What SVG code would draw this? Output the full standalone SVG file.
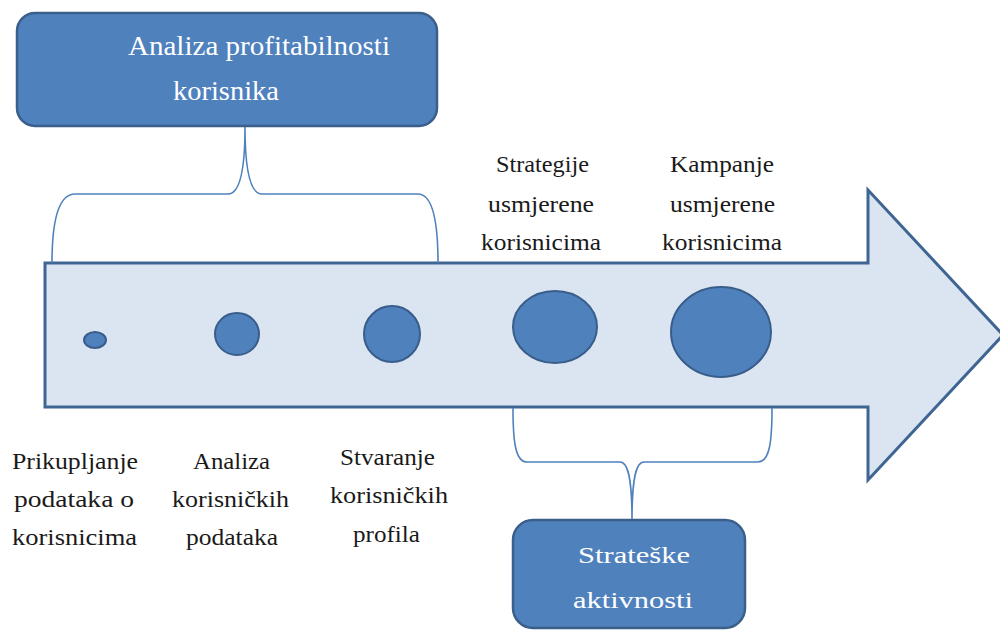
<svg xmlns="http://www.w3.org/2000/svg" width="1000" height="630" viewBox="0 0 1000 630">
<style>
.box{fill:#4F81BD;stroke:#3A5F8B;stroke-width:2.5}
.dot{fill:#4F81BD;stroke:#385D8A;stroke-width:2}
.brace{fill:none;stroke:#4F81BD;stroke-width:1.6}
</style>
<rect width="1000" height="630" fill="#fff"/>
<g id="arrow">
<path d="M45,263 L868,263 L868,190 L1003,335 L868,480 L868,407 L45,407 Z" fill="#DBE5F1" stroke="#3F6593" stroke-width="3"/>
</g>
<g id="connectors">
<path class="brace" d="M52,263 C52,228 56,194 75,194 L228,194 C240,194 245,170 245,127 C245,170 250,194 262,194 L418,194 C434,194 438,228 438,263"/>
<path class="brace" d="M513,408 C513,440 515,462 527,462 L620,462 C628,462 632,478 632,520 C632,478 636,462 644,462 L758,462 C770,462 772,440 772,408"/>
</g>
<g id="circles">
<ellipse class="dot" cx="95" cy="340" rx="11" ry="8"/>
<ellipse class="dot" cx="237" cy="334" rx="22" ry="21"/>
<ellipse class="dot" cx="392" cy="334" rx="28" ry="28"/>
<ellipse class="dot" cx="555" cy="327" rx="42" ry="36"/>
<ellipse class="dot" cx="721" cy="332" rx="50" ry="45"/>
</g>
<g id="top-box" font-family="Liberation Serif, Times New Roman, serif" fill="#fff" font-size="27">
<rect class="box" x="17" y="13" width="420" height="113" rx="18"/>
<text x="128" y="55" textLength="262" lengthAdjust="spacingAndGlyphs">Analiza profitabilnosti</text>
<text x="173" y="100" textLength="106" lengthAdjust="spacingAndGlyphs">korisnika</text>
</g>
<g id="bottom-box" font-family="Liberation Serif, Times New Roman, serif" fill="#fff" font-size="24">
<rect class="box" x="513" y="520" width="232" height="108" rx="20"/>
<text x="578" y="563" textLength="112" lengthAdjust="spacingAndGlyphs">Strateške</text>
<text x="573" y="608" textLength="120" lengthAdjust="spacingAndGlyphs">aktivnosti</text>
</g>
<g font-family="Liberation Serif, Times New Roman, serif" fill="#1a1a1a" font-size="24">
<g id="label-strategije">
<text x="496" y="172" textLength="93" lengthAdjust="spacingAndGlyphs">Strategije</text>
<text x="488" y="212" textLength="106" lengthAdjust="spacingAndGlyphs">usmjerene</text>
<text x="481" y="250" textLength="120" lengthAdjust="spacingAndGlyphs">korisnicima</text>
</g>
<g id="label-kampanje">
<text x="670" y="172" textLength="104" lengthAdjust="spacingAndGlyphs">Kampanje</text>
<text x="670" y="212" textLength="105" lengthAdjust="spacingAndGlyphs">usmjerene</text>
<text x="662" y="250" textLength="120" lengthAdjust="spacingAndGlyphs">korisnicima</text>
</g>
<g id="label-prikupljanje">
<text x="12" y="469" textLength="126" lengthAdjust="spacingAndGlyphs">Prikupljanje</text>
<text x="14" y="507" textLength="120" lengthAdjust="spacingAndGlyphs">podataka o</text>
<text x="12" y="545" textLength="125" lengthAdjust="spacingAndGlyphs">korisnicima</text>
</g>
<g id="label-analiza">
<text x="193" y="469" textLength="77" lengthAdjust="spacingAndGlyphs">Analiza</text>
<text x="172" y="507" textLength="117" lengthAdjust="spacingAndGlyphs">korisničkih</text>
<text x="186" y="545" textLength="92" lengthAdjust="spacingAndGlyphs">podataka</text>
</g>
<g id="label-stvaranje">
<text x="340" y="465" textLength="95" lengthAdjust="spacingAndGlyphs">Stvaranje</text>
<text x="330" y="503" textLength="118" lengthAdjust="spacingAndGlyphs">korisničkih</text>
<text x="353" y="542" textLength="67" lengthAdjust="spacingAndGlyphs">profila</text>
</g>
</g>
</svg>
